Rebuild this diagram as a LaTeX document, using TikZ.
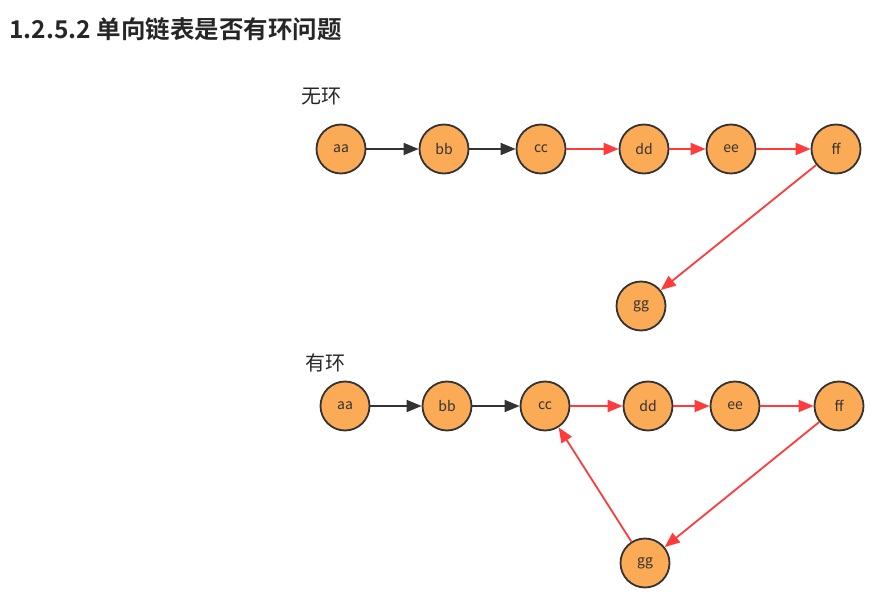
\documentclass[tikz,border=0pt]{standalone}
\usepackage{fontspec}
\setmainfont{Noto Sans CJK SC}
\newfontfamily\cjkb{Noto Sans CJK SC Bold}
\usetikzlibrary{arrows.meta}
\definecolor{nodefill}{HTML}{FBAA55}
\definecolor{nodeedge}{HTML}{333333}
\definecolor{redline}{HTML}{FF3B3B}
\definecolor{darkline}{HTML}{333333}
\tikzset{
  lnode/.style={circle, draw=nodeedge, line width=1.8pt, fill=nodefill, minimum size=49pt, inner sep=0pt, font=\fontsize{14pt}{14pt}\selectfont, text=black!80},
  blk/.style={draw=darkline, line width=1.8pt, -{Triangle[length=15pt,width=12pt]}},
  red/.style={draw=redline, line width=1.8pt, -{Triangle[length=15pt,width=12pt]}},
  lbl/.style={font=\fontsize{20pt}{20pt}\selectfont, text=black!85},
}
\begin{document}
\begin{tikzpicture}[x=1pt,y=-1pt]
\useasboundingbox (0,0) rectangle (892,604);
\node[anchor=west, font=\cjkb\fontsize{24.5pt}{24.5pt}\selectfont, text=black!85] (title) at (6,29) {1.2.5.2 单向链表是否有环问题};
% no loop
\node[lbl] (l1) at (321,97) {无环};
\node[lnode] (a1) at (341,149) {aa};
\node[lnode] (b1) at (444,149) {bb};
\node[lnode] (c1) at (541,149) {cc};
\node[lnode] (d1) at (644,149) {dd};
\node[lnode] (e1) at (731,149) {ee};
\node[lnode] (f1) at (836,149) {ff};
\node[lnode] (g1) at (641,306) {gg};
\draw[blk] (a1) -- (b1);
\draw[blk] (b1) -- (c1);
\draw[red] (c1) -- (d1);
\draw[red] (d1) -- (e1);
\draw[red] (e1) -- (f1);
\draw[red] (f1) -- (g1);
% loop
\node[lbl] (l2) at (325,363) {有环};
\node[lnode] (a2) at (345,406) {aa};
\node[lnode] (b2) at (447,406) {bb};
\node[lnode] (c2) at (545,406) {cc};
\node[lnode] (d2) at (648,406) {dd};
\node[lnode] (e2) at (735,406) {ee};
\node[lnode] (f2) at (839,406) {ff};
\node[lnode] (g2) at (645,563) {gg};
\draw[blk] (a2) -- (b2);
\draw[blk] (b2) -- (c2);
\draw[red] (c2) -- (d2);
\draw[red] (d2) -- (e2);
\draw[red] (e2) -- (f2);
\draw[red] (f2) -- (g2);
\draw[red] (g2) -- (c2);
\end{tikzpicture}
\end{document}
